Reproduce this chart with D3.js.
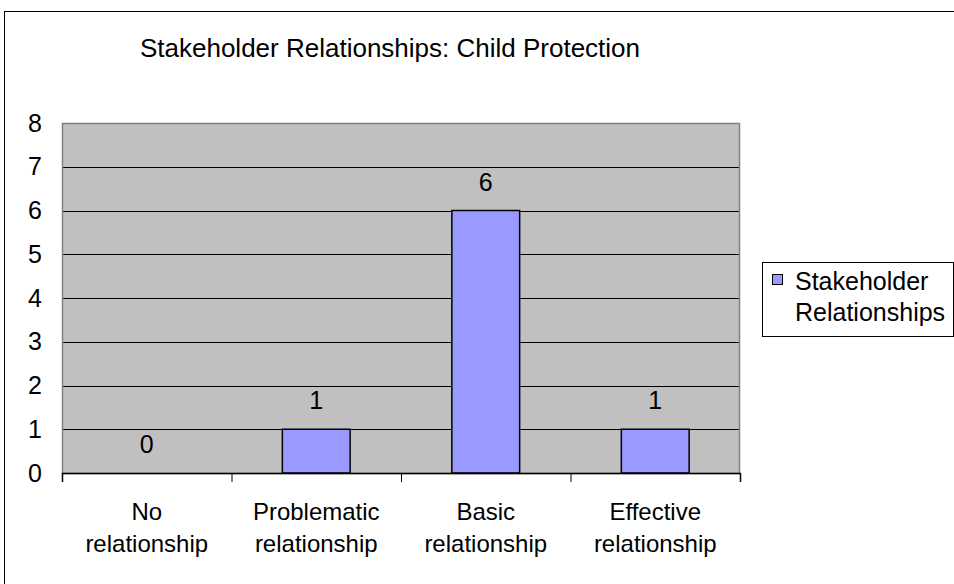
<!DOCTYPE html>
<html>
<head>
<meta charset="utf-8">
<script src="https://cdn.jsdelivr.net/npm/d3@7"></script>
<style>
  html, body { margin: 0; padding: 0; background: #fff; overflow: hidden; }
  svg { display: block; font-family: "Liberation Sans", Arial, sans-serif; }
</style>
</head>
<body>
<svg id="chart" width="954" height="584"></svg>
<script>
const title = "Stakeholder Relationships: Child Protection";
const categories = ["No relationship", "Problematic relationship", "Basic relationship", "Effective relationship"];
const categoryLines = [["No", "relationship"], ["Problematic", "relationship"], ["Basic", "relationship"], ["Effective", "relationship"]];
const values = [0, 1, 6, 1];
const yTicks = [0, 1, 2, 3, 4, 5, 6, 7, 8];
const seriesName = ["Stakeholder", "Relationships"];

const svg = d3.select("#chart");
const plot = { left: 62, top: 123, right: 740, bottom: 473 };

// outer chart border
svg.append("rect")
  .attr("x", 4.5).attr("y", 11.5)
  .attr("width", 970).attr("height", 600)
  .attr("fill", "#fff").attr("stroke", "#000").attr("stroke-width", 1);

const x = d3.scaleBand().domain(categories).range([plot.left, plot.right]).paddingInner(0.6).paddingOuter(0.3);
const y = d3.scaleLinear().domain([0, 8]).range([plot.bottom, plot.top]);

// plot background
svg.append("rect")
  .attr("x", plot.left).attr("y", plot.top)
  .attr("width", plot.right - plot.left).attr("height", plot.bottom - plot.top)
  .attr("fill", "#c0c0c0");

// gridlines
const grid = svg.append("g")
  .attr("transform", `translate(${plot.left},0)`)
  .call(d3.axisLeft(y).tickValues(yTicks.slice(1)).tickSize(-(plot.right - plot.left)).tickFormat(""));
grid.select(".domain").remove();
grid.selectAll("line").attr("stroke", "#000").attr("stroke-width", 1).attr("shape-rendering", "crispEdges");

// plot border (gray)
svg.append("rect")
  .attr("x", plot.left + 0.5).attr("y", plot.top + 0.5)
  .attr("width", plot.right - plot.left - 1).attr("height", plot.bottom - plot.top)
  .attr("fill", "none").attr("stroke", "#808080").attr("stroke-width", 1.5);

// bars
svg.append("g").selectAll("rect").data(values).join("rect")
  .attr("x", (d, i) => x(categories[i]))
  .attr("y", d => y(d))
  .attr("width", x.bandwidth())
  .attr("height", d => y(0) - y(d))
  .attr("fill", "#9999ff")
  .attr("stroke", d => d > 0 ? "#000" : "none")
  .attr("stroke-width", 1.5);

// value labels
svg.append("g").selectAll("text").data(values).join("text")
  .attr("x", (d, i) => x(categories[i]) + x.bandwidth() / 2)
  .attr("y", d => y(d) - 20)
  .attr("text-anchor", "middle")
  .attr("font-size", 25)
  .attr("fill", "#000")
  .text(d => d);

// y axis labels
const yAxis = svg.append("g")
  .attr("transform", `translate(${plot.left},0)`)
  .call(d3.axisLeft(y).tickValues(yTicks).tickSize(0).tickPadding(20));
yAxis.select(".domain").remove();
yAxis.selectAll("text")
  .attr("font-size", 25)
  .attr("font-family", "Liberation Sans, Arial, sans-serif")
  .attr("fill", "#000");

// x axis
const xBound = d3.scaleLinear().domain([0, categories.length]).range([plot.left, plot.right]);
const xAxis = svg.append("g")
  .attr("transform", `translate(0,${plot.bottom})`)
  .call(d3.axisBottom(xBound).tickValues(d3.range(categories.length + 1)).tickSize(9).tickFormat(""));
xAxis.select(".domain").attr("stroke", "#000").attr("stroke-width", 1.5);
xAxis.selectAll("line").attr("stroke", "#000");

// category labels
const catG = svg.append("g").selectAll("text").data(categories).join("text")
  .attr("x", d => x(d) + x.bandwidth() / 2)
  .attr("y", 520)
  .attr("text-anchor", "middle")
  .attr("font-size", 24)
  .attr("fill", "#000");
catG.each(function(d, i) {
  d3.select(this).selectAll("tspan").data(categoryLines[i]).join("tspan")
    .attr("x", x(d) + x.bandwidth() / 2)
    .attr("dy", (t, j) => j === 0 ? 0 : 31.5)
    .text(t => t);
});

// title
svg.append("text")
  .attr("x", 390).attr("y", 57)
  .attr("text-anchor", "middle")
  .attr("font-size", 26)
  .attr("fill", "#000")
  .text(title);

// legend
const lg = svg.append("g");
lg.append("rect")
  .attr("x", 762.5).attr("y", 262.5).attr("width", 191).attr("height", 74)
  .attr("fill", "#fff").attr("stroke", "#000").attr("stroke-width", 1);
lg.append("rect")
  .attr("x", 772.5).attr("y", 274.5).attr("width", 10).attr("height", 10)
  .attr("fill", "#9999ff").attr("stroke", "#000").attr("stroke-width", 1);
lg.append("text")
  .attr("x", 795).attr("y", 290)
  .attr("font-size", 25).attr("fill", "#000")
  .selectAll("tspan").data(seriesName).join("tspan")
  .attr("x", 795)
  .attr("dy", (t, j) => j === 0 ? 0 : 31)
  .text(t => t);
</script>
</body>
</html>
